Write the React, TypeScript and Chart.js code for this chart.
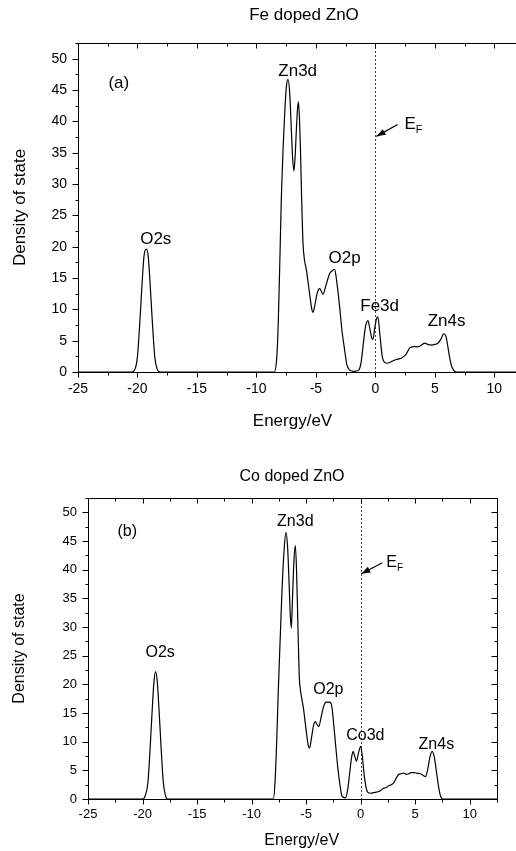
import React, { useEffect, useRef } from "react";
import { Chart, registerables } from "chart.js";
Chart.register(...registerables);

const FONT = "'Liberation Sans', Arial, Helvetica, sans-serif";

// ---------- data: Fe doped ZnO (a) ----------
const feEnergy = [
  -25, -20.5, -20.2, -20.0, -19.8, -19.6, -19.45, -19.27, -19.1, -18.95, -18.75, -18.55, -18.35, -18.1,
  -8.5, -8.3, -8.18, -8.05, -7.9, -7.75, -7.62, -7.48, -7.34, -7.2, -7.06, -6.95, -6.84, -6.74, -6.64,
  -6.55, -6.47, -6.38, -6.3, -6.2, -6.08, -5.95, -5.8, -5.63, -5.46, -5.34, -5.24, -5.1, -4.9, -4.7,
  -4.62, -4.4, -4.2, -3.84, -3.6, -3.42, -3.25, -3.0, -2.8, -2.58, -2.4, -2.16, -1.8, -1.4, -1.2, -1.04,
  -0.85, -0.62, -0.45, -0.3, -0.2, -0.05, 0.1, 0.22, 0.38, 0.59, 0.8, 0.97, 1.3, 1.5, 1.76, 2.0, 2.18,
  2.4, 2.6, 2.88, 3.1, 3.3, 3.5, 3.72, 3.95, 4.14, 4.4, 4.7, 5.0, 5.26, 5.5, 5.7, 5.82, 5.95, 6.1, 6.24,
  6.4, 6.58, 6.8, 12.5,
];
const feDos = [
  0, 0, 0.5, 2.5, 8, 14.5, 18.5, 19.6, 18.5, 14.5, 8, 2.5, 0.5, 0,
  0, 2, 6.7, 16, 28, 36, 41.3, 45.5, 46.7, 44.5, 38.6, 34, 32.1, 34.5, 38.6,
  41.8, 43.1, 40.5, 35.9, 28, 20.5, 17.8, 16.3, 14, 11.5, 10, 9.5, 10.5, 12.5, 13.3,
  13.2, 12.4, 13.5, 15.7, 16.2, 16.4, 14.5, 10.4, 6.5, 3.5, 1.2, 0.3, 0.1, 0.3, 1.5, 4,
  7, 8.2, 6.8, 5.4, 5.2, 7, 8.5, 8.8, 6, 2.4, 1.5, 1.4, 1.6, 1.8, 2.0, 2.1, 2.2,
  2.5, 2.9, 3.8, 4.0, 4.1, 4.0, 4.1, 4.4, 4.6, 4.4, 4.3, 4.4, 4.6, 5.2, 6.0, 6.1, 5.6, 4, 2.4,
  1.0, 0.3, 0, 0,
];

// ---------- data: Co doped ZnO (b) ----------
const coEnergy = [
  -25, -20.0, -19.75, -19.5, -19.3, -19.1, -18.95, -18.8, -18.65, -18.5, -18.3, -18.1, -17.9, -17.7,
  -8.0, -7.85, -7.7, -7.55, -7.37, -7.2, -7.0, -6.85, -6.7, -6.55, -6.45, -6.36, -6.25, -6.12, -5.99,
  -5.88, -5.75, -5.62, -5.53, -5.35, -5.23, -5.0, -4.82, -4.68, -4.5, -4.3, -4.16, -4.0, -3.85, -3.6,
  -3.39, -3.15, -2.9, -2.72, -2.6, -2.48, -2.3, -2.11, -1.9, -1.71, -1.4, -1.2, -1.01, -0.85, -0.7,
  -0.55, -0.39, -0.2, 0.0, 0.15, 0.34, 0.5, 0.64, 0.89, 1.2, 1.45, 1.65, 1.9, 2.11, 2.35, 2.57, 2.8,
  3.03, 3.25, 3.49, 3.7, 3.94, 4.2, 4.4, 4.6, 4.86, 5.2, 5.48, 5.75, 5.94, 6.15, 6.35, 6.55, 6.75,
  7.01, 7.2, 7.31, 7.5, 12.5,
];
const coDos = [
  0, 0, 0.6, 3, 9, 16, 20.5, 22.2, 20.5, 16, 9, 3, 0.6, 0,
  0, 3, 10, 19, 28.4, 37, 44, 46.5, 44, 37, 32, 29.8, 35, 41.5, 44.2,
  40, 30, 21, 19.1, 17, 15.6, 12, 9.5, 8.9, 10.8, 13, 13.5, 13, 12.6, 14.5,
  16.2, 16.9, 16.9, 16.7, 15.5, 13.2, 9.5, 5.7, 2.5, 0.5, 0.2, 1.5, 4.5, 7, 8.3,
  7.5, 6.6, 8, 9.2, 7.5, 3.9, 2, 1.2, 1.0, 1.1, 1.2, 1.3, 1.6, 1.9, 2.0, 2.3, 2.5,
  2.8, 3.6, 4.3, 4.4, 4.5, 4.3, 4.4, 4.6, 4.6, 4.5, 4.4, 4.1, 3.9, 5.2, 7.3, 8.3, 7.3,
  3.9, 1.5, 0.6, 0, 0,
];

// ---------- axes ----------
const xMin = -25;
const xMax = 12.5;
const yMin = 0;
const yMax = 52.5;
const majorStep = 5;
const minorStep = 2.5;

// peak labels (text, energy, dos at label centre)
const feLabelText = ["(a)", "O2s", "Zn3d", "O2p", "Fe3d", "Zn4s"];
const feLabelE = [-21.57, -18.46, -6.53, -2.58, 0.36, 5.99];
const feLabelV = [46.1, 21.1, 48.0, 18.2, 10.5, 8.1];
const coLabelText = ["(b)", "O2s", "Zn3d", "O2p", "Co3d", "Zn4s"];
const coLabelE = [-21.4, -18.38, -5.99, -2.96, 0.43, 6.94];
const coLabelV = [46.6, 25.5, 48.4, 19.1, 11.0, 9.5];

type Panel = {
  W: number;
  H: number;
  area: { left: number; top: number; right: number; bottom: number };
  energy: number[];
  dos: number[];
  labelText: string[];
  labelE: number[];
  labelV: number[];
  title: string;
  titleX: number;
  titleY: number;
  xTitleX: number;
  xTitleY: number;
  yTitleX: number;
  big: number;
  tick: number;
  tickPadX: number;
  tickPadY: number;
  arrow: { e1: number; v1: number; e2: number; v2: number };
  ef: { e: number; v: number };
};

const panelA: Panel = {
  W: 540,
  H: 440,
  area: { left: 78, top: 43, right: 524, bottom: 372 },
  energy: feEnergy,
  dos: feDos,
  labelText: feLabelText,
  labelE: feLabelE,
  labelV: feLabelV,
  title: "Fe doped ZnO",
  titleX: 304,
  titleY: 15,
  xTitleX: 292.5,
  xTitleY: 421.5,
  yTitleX: 20,
  big: 17,
  tick: 14,
  tickPadX: 8.6,
  tickPadY: 11,
  arrow: { e1: 1.87, v1: 39.5, e2: 0.1, v2: 37.6 },
  ef: { e: 2.45, v: 39.6 },
};

const panelB: Panel = {
  W: 516,
  H: 411,
  area: { left: 88, top: 58, right: 497, bottom: 359 },
  energy: coEnergy,
  dos: coDos,
  labelText: coLabelText,
  labelE: coLabelE,
  labelV: coLabelV,
  title: "Co doped ZnO",
  titleX: 292,
  titleY: 37,
  xTitleX: 301.7,
  xTitleY: 401,
  yTitleX: 20,
  big: 16,
  tick: 13,
  tickPadX: 8,
  tickPadY: 11,
  arrow: { e1: 1.99, v1: 41.2, e2: 0.06, v2: 39.3 },
  ef: { e: 2.35, v: 41.3 },
};

function makeDecor(p: Panel) {
  return {
    id: "decor",
    beforeDatasetsDraw(chart: any) {
      const { ctx, chartArea: a, scales } = chart;
      const x0 = Math.round(scales.x.getPixelForValue(0)) + 0.5;
      ctx.save();
      ctx.strokeStyle = "#444";
      ctx.lineWidth = 1;
      ctx.setLineDash([2, 2]);
      ctx.beginPath();
      ctx.moveTo(x0, a.top);
      ctx.lineTo(x0, a.bottom);
      ctx.stroke();
      ctx.restore();
    },
    afterDraw(chart: any) {
      const { ctx, chartArea: a, scales } = chart;
      const xs = scales.x;
      const ys = scales.y;
      const L = Math.round(a.left) + 0.5;
      const R = Math.round(a.right) + 0.5;
      const T = Math.round(a.top) + 0.5;
      const B = Math.round(a.bottom) + 0.5;
      ctx.save();
      ctx.strokeStyle = "#000";
      ctx.lineWidth = 1;
      ctx.beginPath();
      ctx.moveTo(L, T);
      ctx.lineTo(R, T);
      ctx.lineTo(R, B);
      ctx.lineTo(L, B);
      ctx.closePath();
      ctx.stroke();
      // ticks
      ctx.beginPath();
      for (let v = xMin; v <= xMax + 1e-9; v += minorStep) {
        const px = Math.round(xs.getPixelForValue(v)) + 0.5;
        const major = Math.abs(v / majorStep - Math.round(v / majorStep)) < 1e-6;
        const len = major ? 5 : 3;
        ctx.moveTo(px, B);
        ctx.lineTo(px, B + len);
        ctx.moveTo(px, T);
        ctx.lineTo(px, T + len);
      }
      for (let v = yMin; v <= yMax + 1e-9; v += minorStep) {
        const py = Math.round(ys.getPixelForValue(v)) + 0.5;
        const major = Math.abs(v / majorStep - Math.round(v / majorStep)) < 1e-6;
        const len = major ? 6 : 3;
        ctx.moveTo(L, py);
        ctx.lineTo(L - len, py);
        ctx.moveTo(R, py);
        ctx.lineTo(R - len, py);
      }
      ctx.stroke();

      // texts
      ctx.fillStyle = "#000";
      ctx.textAlign = "center";
      ctx.textBaseline = "middle";
      ctx.font = `${p.big}px ${FONT}`;
      ctx.fillText(p.title, p.titleX, p.titleY);
      ctx.fillText("Energy/eV", p.xTitleX, p.xTitleY);
      for (let i = 0; i < p.labelText.length; i++) {
        ctx.fillText(p.labelText[i], xs.getPixelForValue(p.labelE[i]), ys.getPixelForValue(p.labelV[i]));
      }
      // E_F arrow
      const ax1 = xs.getPixelForValue(p.arrow.e1);
      const ay1 = ys.getPixelForValue(p.arrow.v1);
      const ax2 = xs.getPixelForValue(p.arrow.e2);
      const ay2 = ys.getPixelForValue(p.arrow.v2);
      ctx.beginPath();
      ctx.moveTo(ax1, ay1);
      ctx.lineTo(ax2, ay2);
      ctx.lineWidth = 1.2;
      ctx.stroke();
      const ang = Math.atan2(ay2 - ay1, ax2 - ax1);
      const hl = 9;
      const hw = 3.2;
      ctx.beginPath();
      ctx.moveTo(ax2, ay2);
      ctx.lineTo(ax2 - hl * Math.cos(ang) + hw * Math.sin(ang), ay2 - hl * Math.sin(ang) - hw * Math.cos(ang));
      ctx.lineTo(ax2 - hl * Math.cos(ang) - hw * Math.sin(ang), ay2 - hl * Math.sin(ang) + hw * Math.cos(ang));
      ctx.closePath();
      ctx.fill();
      const ex = xs.getPixelForValue(p.ef.e);
      const ey = ys.getPixelForValue(p.ef.v);
      ctx.textAlign = "left";
      ctx.font = `${p.big}px ${FONT}`;
      ctx.fillText("E", ex, ey);
      const ew = ctx.measureText("E").width;
      ctx.font = `${Math.round(p.big * 0.62)}px ${FONT}`;
      ctx.fillText("F", ex + ew, ey + p.big * 0.35);
      ctx.restore();
    },
  };
}

function PanelChart({ p, top }: { p: Panel; top: number }) {
  const ref = useRef<HTMLCanvasElement | null>(null);
  useEffect(() => {
    if (!ref.current) return;
    const chart = new Chart(ref.current, {
      type: "line",
      data: {
        datasets: [
          {
            data: p.energy.map((e, i) => ({ x: e, y: p.dos[i] })),
            borderColor: "#000",
            borderWidth: 1.2,
            pointRadius: 0,
            fill: false,
            cubicInterpolationMode: "monotone",
          },
        ],
      },
      options: {
        responsive: false,
        animation: false,
        devicePixelRatio: 1,
        events: [],
        layout: {
          padding: { left: 0, top: p.area.top, right: p.W - p.area.right, bottom: 0 },
        },
        plugins: {
          legend: { display: false },
          tooltip: { enabled: false },
          title: { display: false },
        },
        scales: {
          x: {
            type: "linear",
            min: xMin,
            max: xMax,
            afterFit: (s: any) => {
              s.height = p.H - p.area.bottom;
            },
            grid: { display: false, drawTicks: false },
            border: { display: false },
            ticks: {
              stepSize: majorStep,
              includeBounds: false,
              padding: p.tickPadX,
              color: "#000",
              maxRotation: 0,
              autoSkip: false,
              font: { family: FONT, size: p.tick },
            },
          },
          y: {
            type: "linear",
            min: yMin,
            max: yMax,
            afterFit: (s: any) => {
              s.width = p.area.left;
            },
            grid: { display: false, drawTicks: false },
            border: { display: false },
            ticks: {
              stepSize: majorStep,
              includeBounds: false,
              padding: p.tickPadY,
              color: "#000",
              autoSkip: false,
              font: { family: FONT, size: p.tick },
            },
            title: {
              display: true,
              text: "Density of state",
              color: "#000",
              font: { family: FONT, size: p.big },
              padding: { top: p.yTitleX - (p.big * 1.2) / 2, bottom: 0 },
            },
          },
        },
      },
      plugins: [makeDecor(p)],
    } as any);
    return () => chart.destroy();
  }, [p]);
  return (
    <canvas
      ref={ref}
      width={p.W}
      height={p.H}
      style={{ position: "absolute", left: 0, top, width: p.W, height: p.H, display: "block" }}
    />
  );
}

export default function App() {
  return (
    <div
      style={{
        position: "absolute",
        left: 0,
        top: 0,
        width: 516,
        height: 851,
        overflow: "hidden",
        background: "#fff",
      }}
    >
      <PanelChart p={panelA} top={0} />
      <PanelChart p={panelB} top={440} />
    </div>
  );
}
